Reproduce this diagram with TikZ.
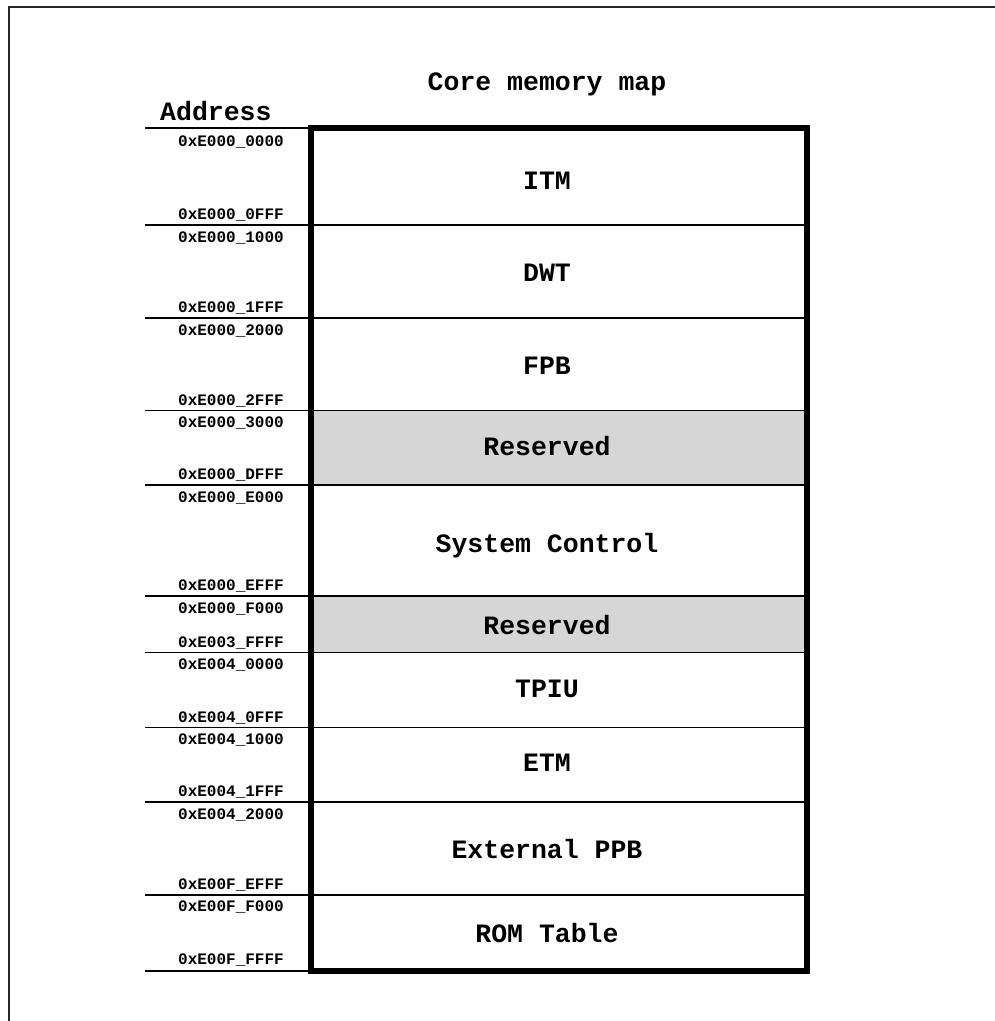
\documentclass[tikz,border=0pt]{standalone}
\usepackage{fontspec}
\setmainfont{Liberation Mono}
\begin{document}
\begin{tikzpicture}[x=1pt,y=-1pt,
  big/.style={font=\fontsize{26.5}{30}\selectfont\bfseries, inner sep=0pt, anchor=base},
  addr/.style={font=\fontsize{16}{18}\selectfont\bfseries, inner sep=0pt, anchor=base east},
  sep/.style={line width=1.7pt},
  frame/.style={line width=1.8pt, black!85},
  resv/.style={fill=black!16}]
\useasboundingbox (0,0) rectangle (995,1021);
% outer frame (partly off page)
\draw[frame] (9,1030) -- (9,7) -- (1005,7);
% reserved fills
\fill[resv] (311,410.5) rectangle (807,485);
\fill[resv] (311,596) rectangle (807,652.5);
% separators
\foreach \y in {128,225,318,410.5,485,596,652.5,727.5,802,895,971}{
  \draw[sep] (145,\y) -- (311,\y);
}
\foreach \y in {225,318,410.5,485,596,652.5,727.5,802,895}{
  \draw[sep] (311,\y) -- (807,\y);
}
% main box
\draw[line width=5.5pt] (311,128) rectangle (807,971);
% titles
\node[big] (title) at (547,90) {Core memory map};
\node[big, anchor=base west] (address) at (160,120) {Address};
% block labels
\node[big] (itm) at (547,189) {ITM};
\node[big] (dwt) at (547,281) {DWT};
\node[big] (fpb) at (547,374) {FPB};
\node[big] (res1) at (547,455) {Reserved};
\node[big] (sysc) at (547,552) {System Control};
\node[big] (res2) at (547,634) {Reserved};
\node[big] (tpiu) at (547,697) {TPIU};
\node[big] (etm) at (547,771) {ETM};
\node[big] (eppb) at (547,858) {External PPB};
\node[big] (rom) at (547,942) {ROM Table};
% address labels
\node[addr] (a1) at (284,146) {0xE000\_0000};
\node[addr] (a2) at (284,219.5) {0xE000\_0FFF};
\node[addr] (a3) at (284,242) {0xE000\_1000};
\node[addr] (a4) at (284,312.5) {0xE000\_1FFF};
\node[addr] (a5) at (284,335) {0xE000\_2000};
\node[addr] (a6) at (284,405) {0xE000\_2FFF};
\node[addr] (a7) at (284,427.5) {0xE000\_3000};
\node[addr] (a8) at (284,479.5) {0xE000\_DFFF};
\node[addr] (a9) at (284,502) {0xE000\_E000};
\node[addr] (a10) at (284,590.5) {0xE000\_EFFF};
\node[addr] (a11) at (284,613) {0xE000\_F000};
\node[addr] (a12) at (284,647) {0xE003\_FFFF};
\node[addr] (a13) at (284,669.5) {0xE004\_0000};
\node[addr] (a14) at (284,722) {0xE004\_0FFF};
\node[addr] (a15) at (284,744.5) {0xE004\_1000};
\node[addr] (a16) at (284,796.5) {0xE004\_1FFF};
\node[addr] (a17) at (284,819) {0xE004\_2000};
\node[addr] (a18) at (284,889.5) {0xE00F\_EFFF};
\node[addr] (a19) at (284,911) {0xE00F\_F000};
\node[addr] (a20) at (284,964) {0xE00F\_FFFF};
\end{tikzpicture}
\end{document}
